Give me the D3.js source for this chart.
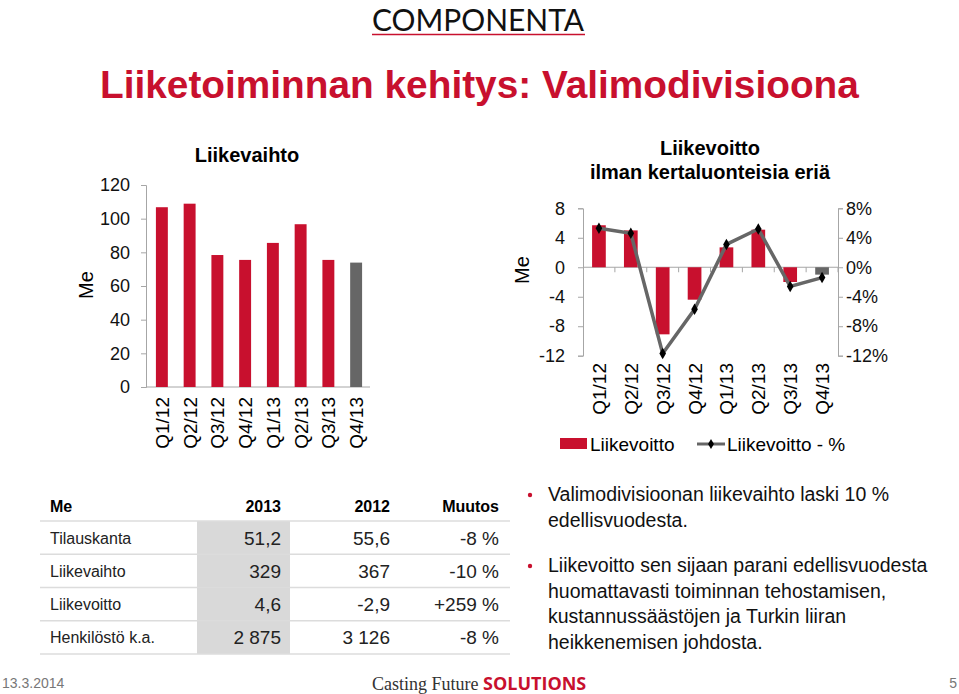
<!DOCTYPE html>
<html>
<head>
<meta charset="utf-8">
<script src="https://cdnjs.cloudflare.com/ajax/libs/d3/7.8.5/d3.min.js"></script>
<style>
  body { margin: 0; background: #fff; }
  svg { font-family: "Liberation Sans", Arial, sans-serif; }
</style>
</head>
<body>
<div id="slide"></div>
<script>
// data
var quarters = ["Q1/12","Q2/12","Q3/12","Q4/12","Q1/13","Q2/13","Q3/13","Q4/13"];
var liikevaihto = [106.8, 108.9, 78.4, 75.5, 85.6, 96.7, 75.5, 73.9];
var liikevoitto = [5.7, 5.0, -9.1, -4.4, 2.7, 5.1, -2.0, -1.0];
var liikevoittoPct = [5.3, 4.6, -11.7, -5.7, 3.1, 5.2, -2.6, -1.4];
var leftTicks = [0, 20, 40, 60, 80, 100, 120];
var rightTicks = [-12, -8, -4, 0, 4, 8];

var tableHead = ["Me", "2013", "2012", "Muutos"];
var tableRows = ["Tilauskanta", "Liikevaihto", "Liikevoitto", "Henkilöstö k.a."];
var col2013 = ["51,2", "329", "4,6", "2 875"];
var col2012 = ["55,6", "367", "-2,9", "3 126"];
var colMuutos = ["-8 %", "-10 %", "+259 %", "-8 %"];

var bullets = [
  ["Valimodivisioonan liikevaihto laski 10 %", "edellisvuodesta."],
  ["Liikevoitto sen sijaan parani edellisvuodesta", "huomattavasti toiminnan tehostamisen,",
   "kustannussäästöjen ja Turkin liiran", "heikkenemisen johdosta."]
];

var red = "#c8102e", grey = "#666666", axisCol = "#a6a6a6";

var svg = d3.select("#slide").append("svg")
    .attr("width", 959)
    .attr("height", 694)

// logo + title
svg.append("text").attr("x", 372).attr("y", 31).text("COMPONENTA")
  .attr("font-family", "Lato, 'Open Sans', sans-serif").attr("font-size", 31)
  .attr("textLength", 212).attr("lengthAdjust", "spacingAndGlyphs").attr("fill", "#111")
svg.append("line").attr("x1", 372).attr("x2", 585).attr("y1", 34.5).attr("y2", 34.5)
  .attr("stroke", red).attr("stroke-width", 1.5)
svg.append("text").attr("x", 100).attr("y", 98).text("Liiketoiminnan kehitys: Valimodivisioona")
  .attr("font-size", 38.8).attr("font-weight", "bold").attr("fill", red)

// ---------- left chart: Liikevaihto ----------
var xL = d3.scaleBand().domain(quarters).range([148, 370]).paddingInner(0.57).paddingOuter(0.285)
var yL = d3.scaleLinear().domain([0, 120]).range([387, 185])

svg.append("text").attr("x", 247).attr("y", 162).attr("text-anchor", "middle")
  .text("Liikevaihto").attr("font-size", 20).attr("font-weight", "bold")

var axL = svg.append("g").attr("transform", "translate(146,0)")
  .call(d3.axisLeft(yL).tickValues(leftTicks).tickSize(5).tickPadding(11).tickFormat(String))
axL.selectAll("path,line").attr("stroke", axisCol)
axL.selectAll("text").attr("font-size", 18).attr("font-family", "Liberation Sans, Arial").attr("fill", "#111")

svg.append("line").attr("x1", 146).attr("x2", 370).attr("y1", yL(0)).attr("y2", yL(0))
  .attr("stroke", axisCol)

svg.selectAll(".barL").data(liikevaihto).enter().append("rect")
  .attr("x", function(d, i){ return xL(quarters[i]); })
  .attr("width", xL.bandwidth())
  .attr("y", function(d){ return yL(d); })
  .attr("height", function(d){ return yL(0) - yL(d); })
  .attr("fill", function(d, i){ return i == quarters.length - 1 ? grey : red; })

svg.selectAll(".labL").data(quarters).enter().append("text")
  .attr("transform", function(d){ return "translate(" + (xL(d) + xL.bandwidth()/2 + 7) + ",397) rotate(-90)"; })
  .attr("text-anchor", "end").attr("font-size", 19).text(function(d){ return d; })

svg.append("text").attr("transform", "translate(93,285) rotate(-90)").attr("text-anchor", "middle")
  .attr("font-size", 20).text("Me")

// ---------- right chart: Liikevoitto ----------
var xR = d3.scaleBand().domain(quarters).range([583, 838]).paddingInner(0.57).paddingOuter(0.285)
var xRpts = d3.scaleBand().domain(quarters).range([583, 838])
var yR = d3.scaleLinear().domain([-12, 8]).range([355.7, 208.3])
var yRp = d3.scaleLinear().domain([-12, 8]).range([355.7, 208.3])

svg.append("text").attr("x", 710).attr("y", 155).attr("text-anchor", "middle")
  .text("Liikevoitto").attr("font-size", 20).attr("font-weight", "bold")
svg.append("text").attr("x", 710).attr("y", 179).attr("text-anchor", "middle")
  .text("ilman kertaluonteisia eriä").attr("font-size", 20).attr("font-weight", "bold")

var axR1 = svg.append("g").attr("transform", "translate(583,0)")
  .call(d3.axisLeft(yR).tickValues(rightTicks).tickSize(5).tickPadding(13).tickFormat(String))
var axR2 = svg.append("g").attr("transform", "translate(838,0)")
  .call(d3.axisRight(yRp).tickValues(rightTicks).tickSize(5).tickPadding(3).tickFormat(function(d){ return d + "%"; }))
svg.selectAll("g path, g line").attr("stroke", axisCol)
axR1.selectAll("text").attr("font-size", 18).attr("font-family", "Liberation Sans, Arial").attr("fill", "#111")
axR2.selectAll("text").attr("font-size", 18).attr("font-family", "Liberation Sans, Arial").attr("fill", "#111")

// zero line with category ticks
svg.append("line").attr("x1", 583).attr("x2", 838).attr("y1", yR(0)).attr("y2", yR(0)).attr("stroke", axisCol)
svg.selectAll(".tickR").data(quarters).enter().append("line")
  .attr("x1", function(d){ return xRpts(d) + xRpts.step(); })
  .attr("x2", function(d){ return xRpts(d) + xRpts.step(); })
  .attr("y1", yR(0)).attr("y2", yR(0) + 5).attr("stroke", axisCol)

svg.selectAll(".barR").data(liikevoitto).enter().append("rect")
  .attr("x", function(d, i){ return xR(quarters[i]); })
  .attr("width", xR.bandwidth())
  .attr("y", function(d){ return yR(Math.max(0, d)); })
  .attr("height", function(d){ return Math.abs(yR(d) - yR(0)); })
  .attr("fill", function(d, i){ return i == quarters.length - 1 ? grey : red; })

var cx = function(d, i){ return xR(quarters[i]) + xR.bandwidth()/2; }
var line = d3.line().x(cx).y(function(d){ return yRp(d); })
svg.append("path").datum(liikevoittoPct).attr("d", line)
  .attr("fill", "none").attr("stroke", grey).attr("stroke-width", 3.5)
svg.selectAll(".mk").data(liikevoittoPct).enter().append("path")
  .attr("d", d3.symbol(d3.symbolDiamond).size(38))
  .attr("transform", function(d, i){ return "translate(" + cx(d, i) + "," + yRp(d) + ")"; })
  .attr("fill", "#000")

svg.selectAll(".labR").data(quarters).enter().append("text")
  .attr("transform", function(d){ return "translate(" + (xR(d) + xR.bandwidth()/2 + 7) + ",363) rotate(-90)"; })
  .attr("text-anchor", "end").attr("font-size", 19).text(function(d){ return d; })

svg.append("text").attr("transform", "translate(529,270) rotate(-90)").attr("text-anchor", "middle")
  .attr("font-size", 20).text("Me")

// legend
svg.append("rect").attr("x", 560).attr("y", 438).attr("width", 27).attr("height", 11).attr("fill", red)
svg.append("text").attr("x", 590).attr("y", 451).attr("font-size", 19).text("Liikevoitto")
svg.append("line").attr("x1", 697).attr("x2", 725).attr("y1", 444).attr("y2", 444)
  .attr("stroke", grey).attr("stroke-width", 3)
svg.append("path").attr("d", d3.symbol(d3.symbolDiamond).size(30)).attr("transform", "translate(711,444)")
svg.append("text").attr("x", 727).attr("y", 451).attr("font-size", 19).text("Liikevoitto - %")

// ---------- table ----------
var rowY = d3.scaleBand().domain(d3.range(tableRows.length)).range([521, 654])
svg.append("rect").attr("x", 197).attr("y", rowY(0)).attr("width", 93)
  .attr("height", rowY.step() * tableRows.length).attr("fill", "#d9d9d9")
svg.selectAll(".sep").data(d3.range(tableRows.length + 1)).enter().append("line")
  .attr("x1", 40).attr("x2", 510)
  .attr("y1", function(d){ return 521 + d * rowY.step(); })
  .attr("y2", function(d){ return 521 + d * rowY.step(); })
  .attr("stroke", "#dcdcdc").attr("stroke-width", 1.5)

var colX = [50, 281, 390, 499]
tableHead.forEach(function(h, i){
  svg.append("text").attr("x", colX[i]).attr("y", 512)
    .attr("text-anchor", i == 0 ? "start" : "end")
    .attr("font-size", 16).attr("font-weight", "bold").text(h)
})
tableRows.forEach(function(r, i){
  var y = rowY(i) + rowY.bandwidth()/2 + 6
  svg.append("text").attr("x", colX[0]).attr("y", y).attr("font-size", 16).attr("fill", "#222").text(r)
  svg.append("text").attr("x", colX[1]).attr("y", y + 1).attr("text-anchor", "end").attr("font-size", 19).attr("fill", "#222").text(col2013[i])
  svg.append("text").attr("x", colX[2]).attr("y", y + 1).attr("text-anchor", "end").attr("font-size", 19).attr("fill", "#222").text(col2012[i])
  svg.append("text").attr("x", colX[3]).attr("y", y + 1).attr("text-anchor", "end").attr("font-size", 19).attr("fill", "#222").text(colMuutos[i])
})

// ---------- bullets ----------
var bulletTop = [501, 572]
bullets.forEach(function(b, i){
  svg.append("circle").attr("cx", 530).attr("cy", bulletTop[i] - 6).attr("r", 2.2).attr("fill", red)
  b.forEach(function(t, j){
    svg.append("text").attr("x", 548).attr("y", bulletTop[i] + j * 25.6)
      .attr("font-size", 19.5).attr("fill", "#111").text(t)
  })
})

// ---------- footer ----------
svg.append("text").attr("x", 2).attr("y", 688).attr("font-size", 14).attr("fill", "#777").text("13.3.2014")
svg.append("text").attr("x", 957).attr("y", 688).attr("text-anchor", "end").attr("font-size", 14).attr("fill", "#777").text("5")
var foot = svg.append("text").attr("x", 372).attr("y", 690).attr("font-size", 18)
foot.append("tspan").attr("font-family", "'Liberation Serif', serif").attr("fill", "#333").text("Casting Future ")
foot.append("tspan").attr("font-family", "'Open Sans', 'Liberation Sans', sans-serif").attr("font-weight", "bold")
  .attr("fill", red).text("SOLUTIONS")
</script>
</body>
</html>
